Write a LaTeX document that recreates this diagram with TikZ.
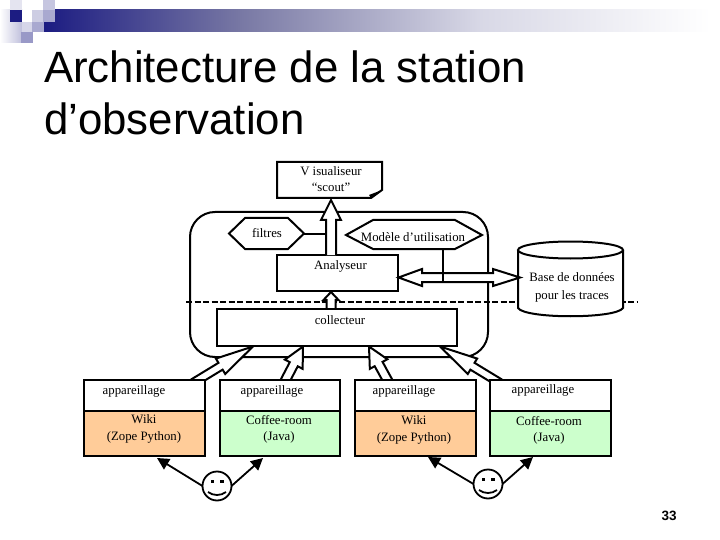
\documentclass[tikz,border=0pt]{standalone}
\usepackage{fontspec}
\setmainfont{Liberation Serif}
\newfontfamily\titlefont{Liberation Sans}
\usetikzlibrary{calc,shapes.geometric,arrows.meta}
\definecolor{navyband}{HTML}{1C1C82}
\definecolor{bandmid}{HTML}{7878A4}
\definecolor{bandlight}{HTML}{D8D8E6}
\definecolor{wikifill}{HTML}{FFCC99}
\definecolor{coffeefill}{HTML}{CCFFCC}
\tikzset{
  x=1pt,y=-1pt,
  every node/.style={inner sep=0pt,outer sep=0pt},
  lbl/.style={font=\fontsize{12.8}{16.5}\selectfont,align=center},
  boxline/.style={draw=black,line width=2pt},
  linker/.style={draw=black,line width=2pt},
  blockarrow/.style={draw=black,fill=white,line width=2pt,miter limit=10},
  userarrow/.style={draw=black,line width=1.8pt,-{Triangle[length=12pt,width=12pt]}},
}
% from, to, shaft half width, head half width, head length
\newcommand{\blockarr}[5]{%
  \coordinate (hb) at ($(#2)!#5!(#1)$);
  \draw[blockarrow] ($(#1)!#3!90:(#2)$) -- ($(hb)!#3!90:(#2)$) -- ($(hb)!#4!90:(#2)$)
    -- (#2) -- ($(hb)!#4!-90:(#2)$) -- ($(hb)!#3!-90:(#2)$) -- ($(#1)!#3!-90:(#2)$);
}
\newcommand{\smiley}[3]{%
  \node[circle,draw=black,line width=1.8pt,fill=white,minimum size=29pt] (#1) at (#2,#3) {};
  \fill ($(#1)+(-6.5,-6.5)$) rectangle ++(3.5,3.5);
  \fill ($(#1)+(3,-6.5)$) rectangle ++(4,3.5);
  \draw[line width=1.8pt] ($(#1)+(-9,6)$) .. controls ($(#1)+(-4,10)$) and ($(#1)+(4,10)$) .. ($(#1)+(9,6)$);
}
\begin{document}
\begin{tikzpicture}
\useasboundingbox (0,0) rectangle (720,540);
\fill[white] (0,0) rectangle (720,540);
% banner
\shade[left color=navyband,right color=bandmid,shading angle=90] (44,10) rectangle (240.5,32);
\shade[left color=bandmid,right color=bandlight,shading angle=90] (240,10) rectangle (480.5,32);
\shade[left color=bandlight,right color=white,shading angle=90] (480,10) rectangle (710,32);
\shade[left color=white,right color=navyband!28,shading angle=90] (0,10) rectangle (22,43);
\fill[navyband!12] (10,0) rectangle (22,10);
\fill[white] (22,10) rectangle (32,22);
\fill[navyband!22] (32,10) rectangle (43,22);
\fill[navyband!38] (43,10) rectangle (55,22);
\fill[navyband!25] (43,0) rectangle (55,10);
\fill[navyband!18] (22,22) rectangle (32,32);
\fill[navyband!38] (32,22) rectangle (44,32);
\fill[navyband!45] (21,32) rectangle (33,43);
\fill[navyband!100!black] (10,10) rectangle (22,22);
% title
\node[anchor=base west,font=\titlefont\fontsize{43.8}{52}\selectfont] (title1) at (44,83) {Architecture de la station};
\node[anchor=base west,font=\titlefont\fontsize{43.8}{52}\selectfont] (title2) at (44,135) {d’observation};
% container
\draw[boxline,rounded corners=25pt] (190,212) rectangle (488,357);
% visualiseur
\draw[boxline] (277,162) -- (382,162) -- (382,190) -- (371,198) -- (277,198) -- cycle;
\fill (382,190) -- (371,198) -- (369,195) -- cycle;
\node[lbl,anchor=north] (vistxt) at (331,166.5) {V isualiseur\\“scout”};
% filtres, modele
\draw[boxline,fill=white] (229,233.5) -- (245,218) -- (288,218) -- (304,233.5) -- (288,249) -- (245,249) -- cycle;
\coordinate (filtE) at (304,233.5);
\coordinate (filtJ) at (335,233.5);
\draw[boxline,fill=white] (346,235) -- (373,220) -- (455,220) -- (482,235) -- (455,249) -- (373,249) -- cycle;
\node[lbl,anchor=center] (filttxt) at (267,233.5) {filtres};
\node[lbl,anchor=center] (modtxt) at (413,237) {Modèle d’utilisation};
\draw[linker] (filtE) -- (filtJ);
% analyseur, collecteur
\node[boxline,fill=white,minimum width=121pt,minimum height=36pt] (ana) at (337.5,273) {};
\node[lbl] (anatxt) at (340.5,266) {Analyseur};
% dashed separator
\coordinate (dashL) at (186,302);
\coordinate (dashR) at (638,302);
\draw[line width=2.4pt,dash pattern=on 6pt off 2.5pt] (dashL) -- (dashR);
% block arrows inside
\coordinate (a1) at (331,255); \coordinate (a2) at (331,200);
\blockarr{a1}{a2}{5pt}{10pt}{20pt}
\coordinate (a3) at (331,309); \coordinate (a4) at (331,292);
\blockarr{a3}{a4}{4.5pt}{7.5pt}{8pt}
% block arrows to the collector, running under the bottom boxes
\coordinate (c1) at (193,383); \coordinate (d1) at (253,346.5);
\blockarr{c1}{d1}{4pt}{9pt}{38pt}
\coordinate (c2) at (284,383); \coordinate (d2) at (303,346.5);
\blockarr{c2}{d2}{4.5pt}{10pt}{20pt}
\coordinate (c3) at (389,383); \coordinate (d3) at (369,346.5);
\blockarr{c3}{d3}{4.5pt}{10pt}{20pt}
\coordinate (c4) at (500,383); \coordinate (d4) at (440,346.5);
\blockarr{c4}{d4}{4pt}{9pt}{38pt}
\node[boxline,fill=white,minimum width=240pt,minimum height=37pt] (col) at (337,327.5) {};
\node[lbl] (coltxt) at (340,320) {collecteur};
% database
\draw[boxline,fill=white] (518,250) -- (518,308) .. controls (525,319) and (616,319) .. (623,308) -- (623,250);
\draw[boxline,fill=white] (570.5,250) ellipse [x radius=52.5,y radius=8.5];
\node[lbl,anchor=north,font=\fontsize{12.8}{18}\selectfont] (dbtxt) at (572,273) {Base de données\\pour les traces};
% horizontal double arrow
\coordinate (h1) at (398.5,277.5); \coordinate (h2) at (520,277.5);
\coordinate (h1b) at (422,277.5); \coordinate (h2b) at (493,277.5);
\draw[blockarrow] (h1b|-0,273) -- (h2b|-0,273) -- (h2b|-0,269) -- (h2) -- (h2b|-0,286) -- (h2b|-0,282) -- (h1b|-0,282) -- (h1b|-0,286) -- (h1) -- (h1b|-0,269) -- cycle;
\coordinate (modS) at (443,249);
\coordinate (modE) at (443,282);
\draw[linker] (modS) -- (modE);
% bottom boxes
\newcommand{\devbox}[8]{%
  \node[fill=white,minimum width=#3pt,minimum height=31pt,anchor=north west] (#1) at (#2,380) {};
  \fill[#6] (#2,411) rectangle ++(#3,45);
  \draw[boxline] (#2,380) rectangle ++(#3,76);
  \draw[boxline] (#2,411) -- ++(#3,0);
  \node[lbl] at (#4,#5) {appareillage};
  \node[lbl,anchor=north] at (#7,#8) {\devtext};
}
\newcommand{\devtext}{Wiki\\(Zope Python)}
\devbox{b1}{84}{121}{134}{391}{wikifill}{144}{415}
\renewcommand{\devtext}{Coffee-room\\(Java)}
\devbox{b2}{220}{120}{272}{391}{coffeefill}{279}{415}
\renewcommand{\devtext}{Wiki\\(Zope Python)}
\devbox{b3}{355}{121}{404}{391}{wikifill}{414}{416}
\renewcommand{\devtext}{Coffee-room\\(Java)}
\devbox{b4}{490}{121}{543}{390}{coffeefill}{549}{416}
% smileys and their arrows
\smiley{s1}{217}{486}
\smiley{s2}{488}{484}
\coordinate (t1) at (157,458); \coordinate (t2) at (263,458);
\coordinate (t3) at (428,457); \coordinate (t4) at (533,457);
\draw[userarrow] (s1.west) -- (t1);
\draw[userarrow] (s1.east) -- (t2);
\draw[userarrow] (s2.west) -- (t3);
\draw[userarrow] (s2.east) -- (t4);
% page number
\node[font=\titlefont\bfseries\fontsize{13.5}{13.5}\selectfont] (page) at (669,516) {33};
\end{tikzpicture}
\end{document}
